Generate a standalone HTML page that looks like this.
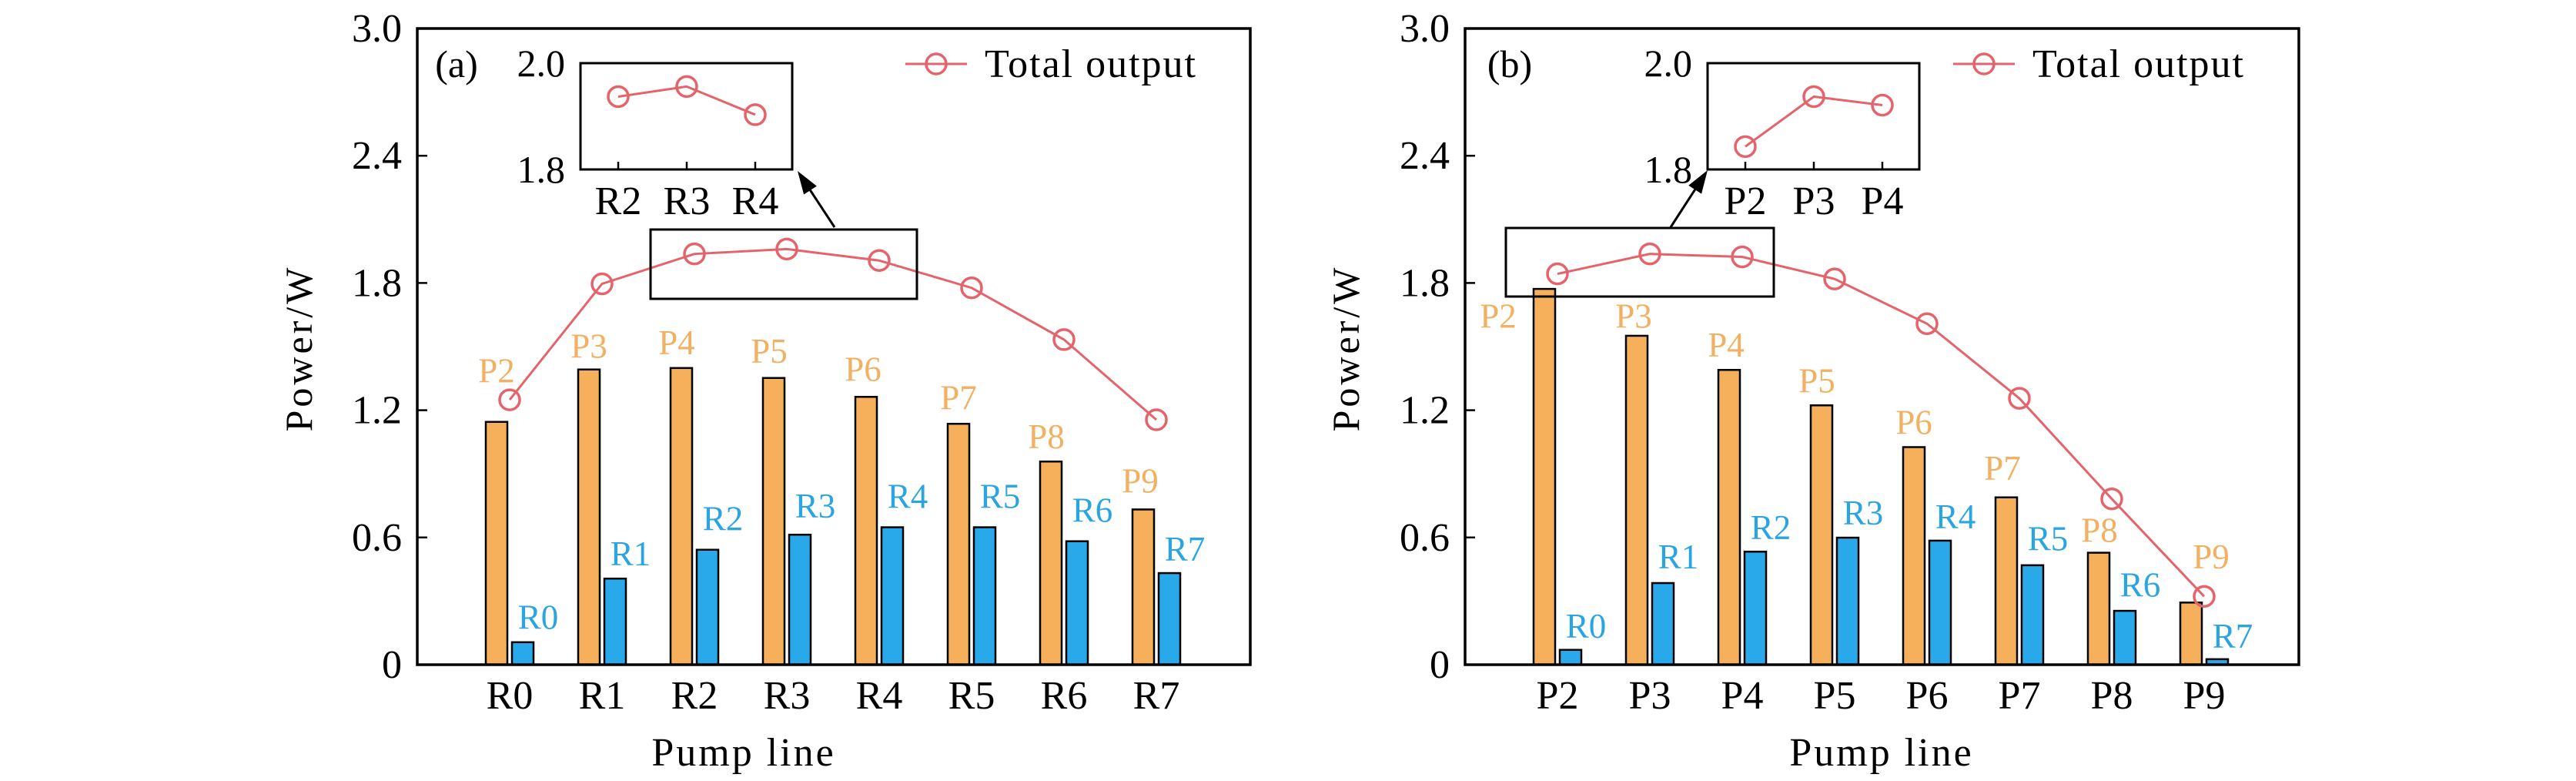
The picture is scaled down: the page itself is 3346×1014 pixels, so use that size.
<!DOCTYPE html>
<html><head><meta charset="utf-8"><style>
html,body{margin:0;padding:0;background:#fff;overflow:hidden}
svg{display:block;font-family:"Liberation Serif","DejaVu Serif",serif}
</style></head><body>
<svg id="chart" width="3346" height="1014" viewBox="0 0 3346 1014" xmlns="http://www.w3.org/2000/svg"></svg>
<script>
const catsA = ["R0","R1","R2","R3","R4","R5","R6","R7"];
const pumpA = [1.145,1.392,1.399,1.352,1.263,1.136,0.958,0.732];
const resA = [0.106,0.406,0.542,0.613,0.648,0.648,0.582,0.432];
const totalA = [1.249,1.796,1.937,1.960,1.906,1.777,1.533,1.155];
const pLabA = ["P2","P3","P4","P5","P6","P7","P8","P9"];
const rLabA = ["R0","R1","R2","R3","R4","R5","R6","R7"];
const pLabYA = [1.385,1.502,1.519,1.479,1.392,1.258,1.075,0.866];
const rLabYA = [0.223,0.523,0.688,0.749,0.793,0.793,0.728,0.545];
const insetCatsA = ["R2","R3","R4"];
const insetValsA = [1.937,1.956,1.903];

const catsB = ["P2","P3","P4","P5","P6","P7","P8","P9"];
const pumpB = [1.772,1.551,1.390,1.223,1.026,0.789,0.528,0.293];
const resB = [0.070,0.385,0.533,0.599,0.585,0.469,0.254,0.026];
const totalB = [1.843,1.937,1.923,1.819,1.608,1.256,0.782,0.322];
const pLabB = ["P2","P3","P4","P5","P6","P7","P8","P9"];
const rLabB = ["R0","R1","R2","R3","R4","R5","R6","R7"];
const pLabYB = [1.643,1.643,1.507,1.338,1.143,0.927,0.634,0.509];
const rLabYB = [0.181,0.509,0.646,0.716,0.697,0.594,0.376,0.134];
const insetCatsB = ["P2","P3","P4"];
const insetValsB = [1.843,1.937,1.921];

const yTicks = [0,0.6,1.2,1.8,2.4,3.0];
const yTickLabels = ["0","0.6","1.2","1.8","2.4","3.0"];

const NS="http://www.w3.org/2000/svg";
const svg=document.getElementById('chart');
function el(tag,attrs,parent,text){const e=document.createElementNS(NS,tag);for(const k in attrs)e.setAttribute(k,attrs[k]);if(text!==undefined)e.textContent=text;(parent||svg).appendChild(e);return e;}
const ORANGE="#f6b05b",BLUE="#2aa9ea",RED="#e5636a",OTXT="#f2b062",BTXT="#2ba4e2";

function panel(cfg){
  const g=el('g',{});
  
  
  const L=cfg.left,R=cfg.right,T=37,B=863;
  const y=v=>B-(v/3)*(B-T);
  const x=i=>cfg.x0+i*120;
  cfg.pump.forEach((v,i)=>{const r=el('rect',{x:x(i)-31,y:y(v),width:28,height:B-y(v),fill:ORANGE,stroke:"#000","stroke-width":2.5},g);
    
    });
  cfg.res.forEach((v,i)=>{const r=el('rect',{x:x(i)+3,y:y(v),width:28,height:B-y(v),fill:BLUE,stroke:"#000","stroke-width":2.5},g);
    
    });
  cfg.pLab.forEach((s,i)=>{const t=el('text',{x:x(i)-17+cfg.pdx[i],y:y(cfg.pLabY[i])+15,"font-size":45,fill:OTXT,"text-anchor":"middle"},g,s);
    
    });
  cfg.rLab.forEach((s,i)=>{const t=el('text',{x:x(i)+37,y:y(cfg.rLabY[i])+15,"font-size":45,fill:BTXT,"text-anchor":"middle"},g,s);
    
    });
  el('polyline',{points:cfg.total.map((v,i)=>x(i)+","+y(v)).join(" "),fill:"none",stroke:RED,"stroke-width":3},g);
  cfg.total.forEach((v,i)=>{const c=el('circle',{cx:x(i),cy:y(v),r:13,fill:"none",stroke:RED,"stroke-width":3.5},g);
    
    });
  const f=el('rect',{x:L,y:T,width:R-L,height:B-T,fill:"none",stroke:"#000","stroke-width":3.5},g);
  
  
  yTicks.forEach((v,i)=>{el('line',{x1:L,x2:L+13,y1:y(v),y2:y(v),stroke:"#000","stroke-width":2.5},g);
    const t=el('text',{x:L-20,y:y(v)+17,"font-size":52,"text-anchor":"end"},g,yTickLabels[i]);
    
    });
  cfg.cats.forEach((c,i)=>{const t=el('text',{x:x(i),y:920,"font-size":52,"text-anchor":"middle"},g,c);
    
    });
  const yt=el('text',{x:cfg.ylx,y:452,"font-size":50,"text-anchor":"middle","letter-spacing":"4",transform:`rotate(-90 ${cfg.ylx} 452)`},g,"Power/W");
  
  
  const xt=el('text',{x:cfg.xtx,y:994,"font-size":52,"text-anchor":"middle","letter-spacing":"3"},g,"Pump line");
  
  
  const pl=el('text',{x:cfg.plx,y:100,"font-size":50,"text-anchor":"middle"},g,cfg.tag);
  
  
  const lg=el('g',{},g);
  
  
  el('line',{x1:cfg.legx,x2:cfg.legx+80,y1:83,y2:83,stroke:RED,"stroke-width":3},lg);
  el('circle',{cx:cfg.legx+40,cy:83,r:13,fill:"none",stroke:RED,"stroke-width":3.5},lg);
  el('text',{x:cfg.legx+103,y:100,"font-size":52,"letter-spacing":"2"},lg,"Total output");
  const zr=el('rect',{x:cfg.zr[0],y:cfg.zr[1],width:cfg.zr[2],height:cfg.zr[3],fill:"none",stroke:"#000","stroke-width":3},g);
  
  
  const a=cfg.arrow;const dx=a[2]-a[0],dy=a[3]-a[1],len=Math.hypot(dx,dy),ux=dx/len,uy=dy/len;
  el('line',{x1:a[0],y1:a[1],x2:a[2]-ux*20,y2:a[3]-uy*20,stroke:"#000","stroke-width":3},g);
  const bx=a[2]-ux*30,by=a[3]-uy*30;
  el('polygon',{points:`${a[2]},${a[3]} ${bx-uy*10},${by+ux*10} ${bx+uy*10},${by-ux*10}`,fill:"#000"},g);
  const ig=el('g',{},g);
  
  
  const IL=cfg.inset[0],IT=82,IR=cfg.inset[1],IB=220;
  const iy=v=>IB-(v-1.8)/0.2*(IB-IT);
  const ix=i=>IL+49+i*89;
  el('rect',{x:IL,y:IT,width:IR-IL,height:IB-IT,fill:"#fff",stroke:"#000","stroke-width":3},ig);
  cfg.insetCats.forEach((c,i)=>{el('line',{x1:ix(i),x2:ix(i),y1:IB,y2:IB-10,stroke:"#000","stroke-width":2.5},ig);
    el('text',{x:ix(i),y:278,"font-size":52,"text-anchor":"middle"},ig,c);});
  el('text',{x:IL-20,y:IT+17,"font-size":50,"text-anchor":"end"},ig,"2.0");
  el('text',{x:IL-20,y:IB+17,"font-size":50,"text-anchor":"end"},ig,"1.8");
  el('polyline',{points:cfg.insetVals.map((v,i)=>ix(i)+","+iy(v)).join(" "),fill:"none",stroke:RED,"stroke-width":3},ig);
  cfg.insetVals.forEach((v,i)=>el('circle',{cx:ix(i),cy:iy(v),r:13,fill:"none",stroke:RED,"stroke-width":3.5},ig));
}
panel({name:"panel-a",tag:"(a)",left:542,right:1624,x0:662,cats:catsA,pump:pumpA,res:resA,total:totalA,
  pLab:pLabA,rLab:rLabA,pLabY:pLabYA,rLabY:rLabYA,pdx:[0,0,-6,-6,-4,0,-6,-4],
  ylx:405,xtx:966,plx:593,legx:1176,zr:[845,298,346,90],arrow:[1084,295,1036,222],
  inset:[754,1029],insetCats:insetCatsA,insetVals:insetValsA});
panel({name:"panel-b",tag:"(b)",left:1903,right:2986,x0:2023,cats:catsB,pump:pumpB,res:resB,total:totalB,
  pLab:pLabB,rLab:rLabB,pLabY:pLabYB,rLabY:rLabYB,pdx:[-60,-4,-4,-6,0,-5,1,26],
  ylx:1765,xtx:2444,plx:1961,legx:2537,zr:[1956,296,348,89],arrow:[2170,295,2218,221],
  inset:[2218,2493],insetCats:insetCatsB,insetVals:insetValsB});
</script>
</body></html>
